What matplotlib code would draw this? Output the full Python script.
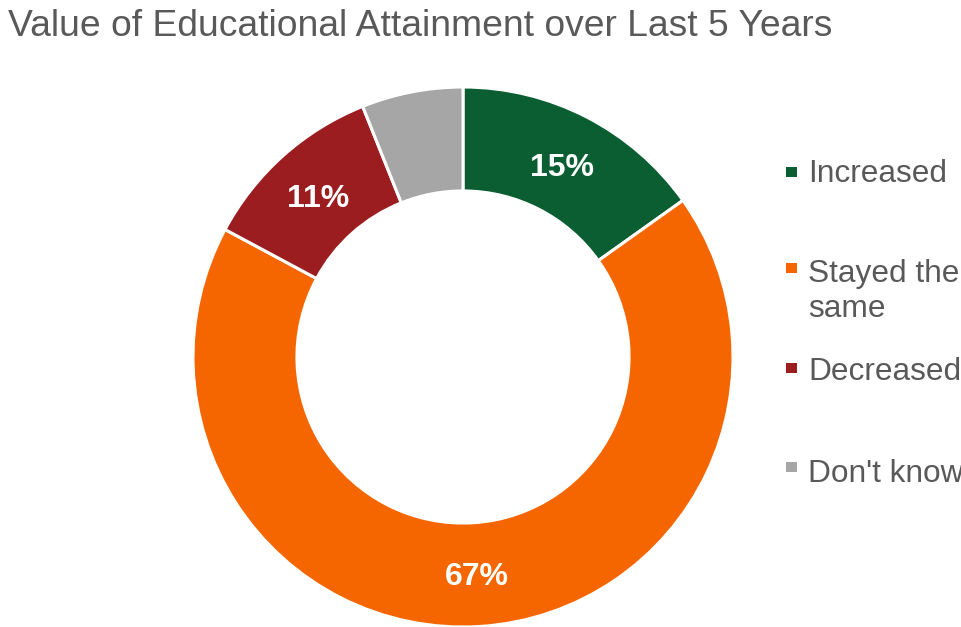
import matplotlib
matplotlib.use("Agg")
import matplotlib.pyplot as plt
from matplotlib.patches import Rectangle
import numpy as np

plt.rcParams['font.family'] = ['Liberation Sans', 'DejaVu Sans']

title = "Value of Educational Attainment over Last 5 Years"
categories = ["Increased", "Stayed the\nsame", "Decreased", "Don't know"]
values = [15, 67, 11, 6]
labels = ["15%", "67%", "11%", ""]
colors = ["#0B5E32", "#F56600", "#9B1D20", "#A6A6A6"]

W, H = 962, 627
fig = plt.figure(figsize=(W / 100, H / 100), dpi=100)
cx, cy, R = 463, 357, 270
ax = fig.add_axes([(cx - R) / W, (H - cy - R) / H, 2 * R / W, 2 * R / H])
wedges, _ = ax.pie(values, colors=colors, startangle=90, counterclock=False,
                   radius=1, wedgeprops=dict(width=0.385, edgecolor="white", linewidth=2.2))
ax.set_xlim(-1, 1)
ax.set_ylim(-1, 1)
ax.set_aspect("equal")
ax.axis("off")

# percent labels
total = sum(values)
start = 90.0
for v, lab in zip(values, labels):
    ang = start - v / total * 360 / 2
    start -= v / total * 360
    if lab:
        r = 0.803
        ax.annotate(lab, (r * np.cos(np.radians(ang)), r * np.sin(np.radians(ang))),
                    xytext=(0, -8.3), textcoords="offset points",
                    ha="center", va="baseline", color="white", fontsize=23, fontweight="bold")

fig.text(8 / W, 1 - 36 / H, title, fontsize=26.8, color="#595959", ha="left", va="baseline")

# legend
text_color = "#595959"
marker_tops = [167, 263, 363, 462]
baselines = [182, 282, 380, 482]
line_gap = 35
for cat, col, mt, bl in zip(categories, colors, marker_tops, baselines):
    fig.patches.append(Rectangle((786 / W, 1 - (mt + 10) / H), 11 / W, 10 / H,
                                 transform=fig.transFigure, facecolor=col, edgecolor="none"))
    for i, line in enumerate(cat.split("\n")):
        fig.text(808 / W, 1 - (bl + i * line_gap) / H, line, fontsize=22.8, color=text_color,
                 ha="left", va="baseline")

fig.savefig("out.png", dpi=100)
